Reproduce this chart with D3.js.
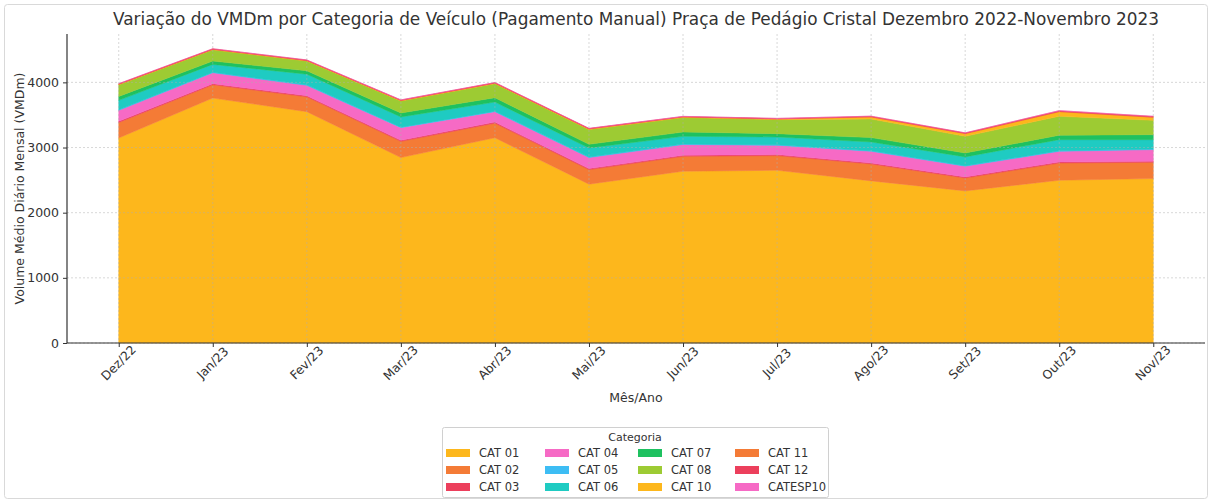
<!DOCTYPE html>
<html><head><meta charset="utf-8">
<script src="https://cdn.jsdelivr.net/npm/d3@7"></script>
<style>body{margin:0;background:#fff;font-family:"DejaVu Sans",sans-serif}</style>
</head><body><svg id="c" width="1212" height="503"></svg>
<script>
const months = ["Dez/22","Jan/23","Fev/23","Mar/23","Abr/23","Mai/23","Jun/23","Jul/23","Ago/23","Set/23","Out/23","Nov/23"];
const categories = ["CAT 01","CAT 02","CAT 03","CAT 04","CAT 05","CAT 06","CAT 07","CAT 08","CAT 10","CAT 11","CAT 12","CATESP10"];
const cat01 = [3146,3760,3550,2846,3150,2437,2636,2651,2488,2334,2498,2524];
const cat02 = [240,204,229,249,224,224,229,225,260,199,265,249];
const cat03 = [16,16,16,16,16,16,16,16,16,16,16,16];
const cat04 = [169,168,159,194,160,169,164,142,178,164,163,179];
const cat05 = [8,8,8,8,8,8,8,8,8,8,8,8];
const cat06 = [145,120,163,156,140,139,119,120,135,135,171,145];
const cat07 = [61,51,53,61,67,57,66,51,67,60,67,77];
const cat08 = [179,173,149,184,215,225,221,215,286,256,291,220];
const cat10 = [5,5,6,6,6,8,8,8,30,40,70,45];
const cat11 = [4,4,4,4,4,4,4,4,4,4,4,4];
const cat12 = [7,7,7,7,7,7,7,7,9,9,13,12];
const catesp10 = [0.5,0.5,0.5,0.5,0.5,0.5,0.5,0.5,0.5,0.5,0.5,0.5];
const yTicks = [0,1000,2000,3000,4000];
const colors = ["#FDB71C","#F47B36","#EC3F5C","#F66AC5","#3DBDF4","#1FCBC2","#1EC160","#9DCB33","#FDB71C","#F47B36","#EC3F5C","#F66AC5"];

const series = [cat01,cat02,cat03,cat04,cat05,cat06,cat07,cat08,cat10,cat11,cat12,catesp10];
const table = months.map((m,i)=>{const o={month:m}; categories.forEach((c,k)=>o[c]=series[k][i]); return o;});

const svg = d3.select("#c");
svg.append("rect").attr("x",4.5).attr("y",4.5).attr("width",1203).attr("height",494).attr("rx",3)
  .attr("fill","#fff").attr("stroke","#d9d9d9");

const L=67,R=1205,T=34,B=343;
const n = months.length;
const xs = d3.scaleLinear().domain([-0.05*(n-1), (n-1)*1.05]).range([L,R]);
const x = m => xs(months.indexOf(m));
const stack = d3.stack().keys(categories)(table);
const maxV = d3.max(stack[stack.length-1], d=>d[1]);
const y = d3.scaleLinear().domain([0,maxV*1.05]).range([B,T]);

const area = d3.area().x((d,i)=>xs(i)).y0(d=>y(d[0])).y1(d=>y(d[1]));
svg.append("g").selectAll("path").data(stack).join("path")
  .attr("d",area).attr("fill",(d,i)=>colors[i]).attr("stroke",(d,i)=>colors[i]).attr("stroke-width",(d,i)=>i===11?0.3:0.5);

// grid
const g = svg.append("g").attr("stroke","#b0b0b0").attr("stroke-dasharray","2,2").attr("stroke-width",0.8).attr("opacity",0.6);
yTicks.forEach(t=>g.append("line").attr("x1",L).attr("x2",R).attr("y1",y(t)).attr("y2",y(t)));
months.forEach(m=>g.append("line").attr("x1",x(m)).attr("x2",x(m)).attr("y1",T).attr("y2",B));

// axes
const ya = svg.append("g").attr("transform",`translate(${L},0)`)
  .call(d3.axisLeft(y).tickValues(yTicks).tickFormat(d3.format("d")).tickSize(4).tickPadding(4));
const xa = svg.append("g").attr("transform",`translate(0,${B})`)
  .call(d3.axisBottom(xs).tickValues(d3.range(n)).tickSize(4).tickFormat(""));
[ya,xa].forEach(a=>{a.select(".domain").attr("stroke","#333").attr("stroke-width",1.2);
  a.selectAll(".tick line").attr("stroke","#333");
  a.selectAll("text").attr("font-family","DejaVu Sans").attr("font-size",12.5).attr("fill","#333");});
ya.select(".domain").attr("d",`M0,${T}V${B}`);
xa.select(".domain").attr("d",`M${L},0H${R}`);

svg.append("g").selectAll("text").data(months).join("text")
  .attr("transform",d=>`translate(${x(d)},${B+20}) rotate(-45)`)
  .attr("text-anchor","middle").attr("dominant-baseline","central")
  .attr("font-size",12.3).attr("fill","#333").text(d=>d);

svg.append("text").attr("x",636).attr("y",25).attr("text-anchor","middle")
  .attr("font-size",16.9).attr("fill","#333")
  .text("Variação do VMDm por Categoria de Veículo (Pagamento Manual) Praça de Pedágio Cristal Dezembro 2022-Novembro 2023");
svg.append("text").attr("transform",`translate(24,${(T+B)/2}) rotate(-90)`).attr("text-anchor","middle")
  .attr("font-size",12.5).attr("fill","#333").text("Volume Médio Diário Mensal (VMDm)");
svg.append("text").attr("x",636).attr("y",402).attr("text-anchor","middle")
  .attr("font-size",12.5).attr("fill","#333").text("Mês/Ano");

// legend
const lg = svg.append("g");
lg.append("rect").attr("x",442.5).attr("y",427.5).attr("width",386).attr("height",70).attr("rx",2)
  .attr("fill","#fff").attr("stroke","#d0d0d0");
lg.append("text").attr("x",635).attr("y",441).attr("text-anchor","middle").attr("font-size",11).attr("fill","#333").text("Categoria");
const colX=[446,545,638,735];
categories.forEach((c,i)=>{
  const col=Math.floor(i/3), row=i%3;
  const yy=453+row*17;
  lg.append("rect").attr("x",colX[col]).attr("y",yy-4).attr("width",24).attr("height",8).attr("fill",colors[i]);
  lg.append("text").attr("x",colX[col]+33).attr("y",yy).attr("dominant-baseline","central")
    .attr("font-size",11.5).attr("fill","#333").text(c);
});
</script></body></html>
